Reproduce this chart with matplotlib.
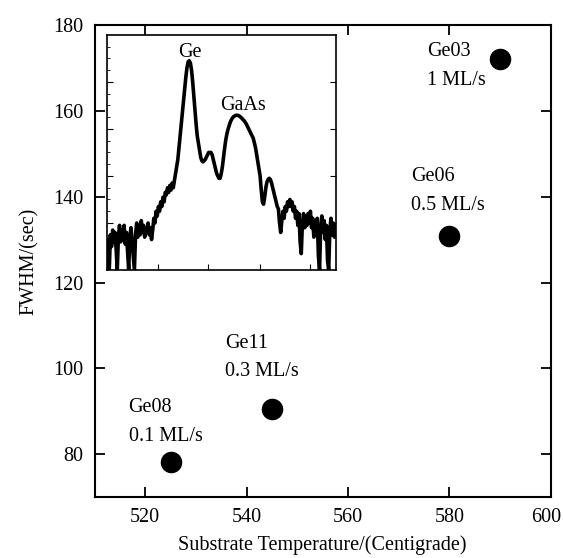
import matplotlib
matplotlib.use("Agg")
import matplotlib.pyplot as plt
import matplotlib.transforms as mtransforms
import numpy as np

# main scatter data
temps = [525, 545, 580, 590]
fwhm = [78.2, 90.5, 130.8, 172.0]
sample_names = ["Ge08", "Ge11", "Ge06", "Ge03"]
rates = ["0.1 ML/s", "0.3 ML/s", "0.5 ML/s", "1 ML/s"]
label_x = [516.7, 535.8, 572.4, 575.6]
label_y = [90.9, 105.9, 144.7, 173.9]

# inset rocking curve (normalised intensity, evenly spaced)
inset_y = [
    0.13, 0.02, 0.00, 0.15, 0.10, 0.17, 0.12, 0.16, 0.09, 0.00,
    0.14, 0.19, 0.12, 0.17, 0.13, 0.19, 0.11, 0.16, 0.08, 0.00,
    0.14, 0.18, 0.12, 0.06, 0.00, 0.15, 0.20, 0.14, 0.18, 0.15,
    0.21, 0.16, 0.19, 0.14, 0.18, 0.16, 0.20, 0.15, 0.18, 0.13,
    0.17, 0.22, 0.20, 0.25, 0.23, 0.27, 0.25, 0.29, 0.27, 0.31,
    0.29, 0.33, 0.32, 0.35, 0.33, 0.36, 0.34, 0.37, 0.35, 0.38,
    0.41, 0.44, 0.47, 0.52, 0.57, 0.62, 0.67, 0.72, 0.77, 0.82,
    0.86, 0.885, 0.89, 0.88, 0.85, 0.80, 0.74, 0.68, 0.62, 0.57,
    0.54, 0.51, 0.48, 0.465, 0.46, 0.465, 0.47, 0.48, 0.49, 0.50,
    0.50, 0.50, 0.49, 0.47, 0.45, 0.43, 0.41, 0.40, 0.39, 0.39,
    0.41, 0.44, 0.48, 0.52, 0.555, 0.58, 0.60, 0.615, 0.63, 0.64,
    0.648, 0.653, 0.656, 0.658, 0.658, 0.657, 0.654, 0.65, 0.645, 0.64,
    0.635, 0.628, 0.62, 0.61, 0.60, 0.59, 0.58, 0.57, 0.56, 0.54,
    0.52, 0.49, 0.46, 0.43, 0.40, 0.34, 0.29, 0.28, 0.31, 0.35,
    0.375, 0.385, 0.39, 0.385, 0.37, 0.35, 0.33, 0.31, 0.29, 0.27,
    0.26, 0.20, 0.16, 0.21, 0.25, 0.22, 0.27, 0.25, 0.29, 0.27,
    0.30, 0.27, 0.29, 0.25, 0.27, 0.22, 0.25, 0.19, 0.24, 0.12,
    0.07, 0.20, 0.24, 0.18, 0.23, 0.19, 0.24, 0.20, 0.25, 0.18,
    0.22, 0.14, 0.21, 0.17, 0.22, 0.06, 0.00, 0.18, 0.23, 0.16,
    0.21, 0.13, 0.19, 0.04, 0.00, 0.17, 0.22, 0.15, 0.20, 0.14,
    0.19,
]
inset_x = np.linspace(0, 1, len(inset_y))

plt.rcParams["font.family"] = ["Liberation Serif", "DejaVu Serif"]
plt.rcParams["font.size"] = 14.5

fig = plt.figure(figsize=(5.63, 5.58), dpi=100)
ax = fig.add_axes([0.168, 0.109, 0.810, 0.846])

ax.scatter(temps, fwhm, s=210, color="black", zorder=3)
for name, rate, lx, ly in zip(sample_names, rates, label_x, label_y):
    ax.text(lx, ly, name, ha="left", va="center")
    ax.text(lx, ly - 6.7, rate, ha="left", va="center")

ax.set_xlim(510, 600)
ax.set_ylim(70, 180)
ax.set_xticks([520, 540, 560, 580, 600])
ax.set_yticks([80, 100, 120, 140, 160, 180])
ax.tick_params(direction="in", length=7, width=1.3, top=True, right=True, pad=8)
for sp in ax.spines.values():
    sp.set_linewidth(1.5)
ax.set_xlabel("Substrate Temperature/(Centigrade)", labelpad=6)
ax.set_ylabel("FWHM/(sec)", labelpad=10)

# keep the last x tick label inside the figure
last = ax.get_xticklabels()[-1]
last.set_transform(last.get_transform()
                   + mtransforms.ScaledTranslation(-4 / 100, 0, fig.dpi_scale_trans))

# inset
ax_in = fig.add_axes([0.190, 0.516, 0.406, 0.4216])
ax_in.plot(inset_x, inset_y, color="black", linewidth=2.6)
ax_in.set_xlim(0, 1)
ax_in.set_ylim(0, 1)
ax_in.set_xticks([0.224, 0.442, 0.669, 0.888])
ax_in.set_yticks([0.2, 0.4, 0.6, 0.8])
ax_in.set_yticks(np.arange(0.05, 1.0, 0.05), minor=True)
ax_in.tick_params(which="major", direction="in", length=4, width=0.8,
                  left=True, right=True, labelleft=False, labelbottom=False)
ax_in.tick_params(which="minor", direction="in", length=2, width=0.6,
                  left=True, right=False)
for sp in ax_in.spines.values():
    sp.set_linewidth(1.2)
ax_in.text(0.363, 0.925, "Ge", ha="center", va="center")
ax_in.text(0.596, 0.70, "GaAs", ha="center", va="center")

fig.savefig("out.png", dpi=100)
